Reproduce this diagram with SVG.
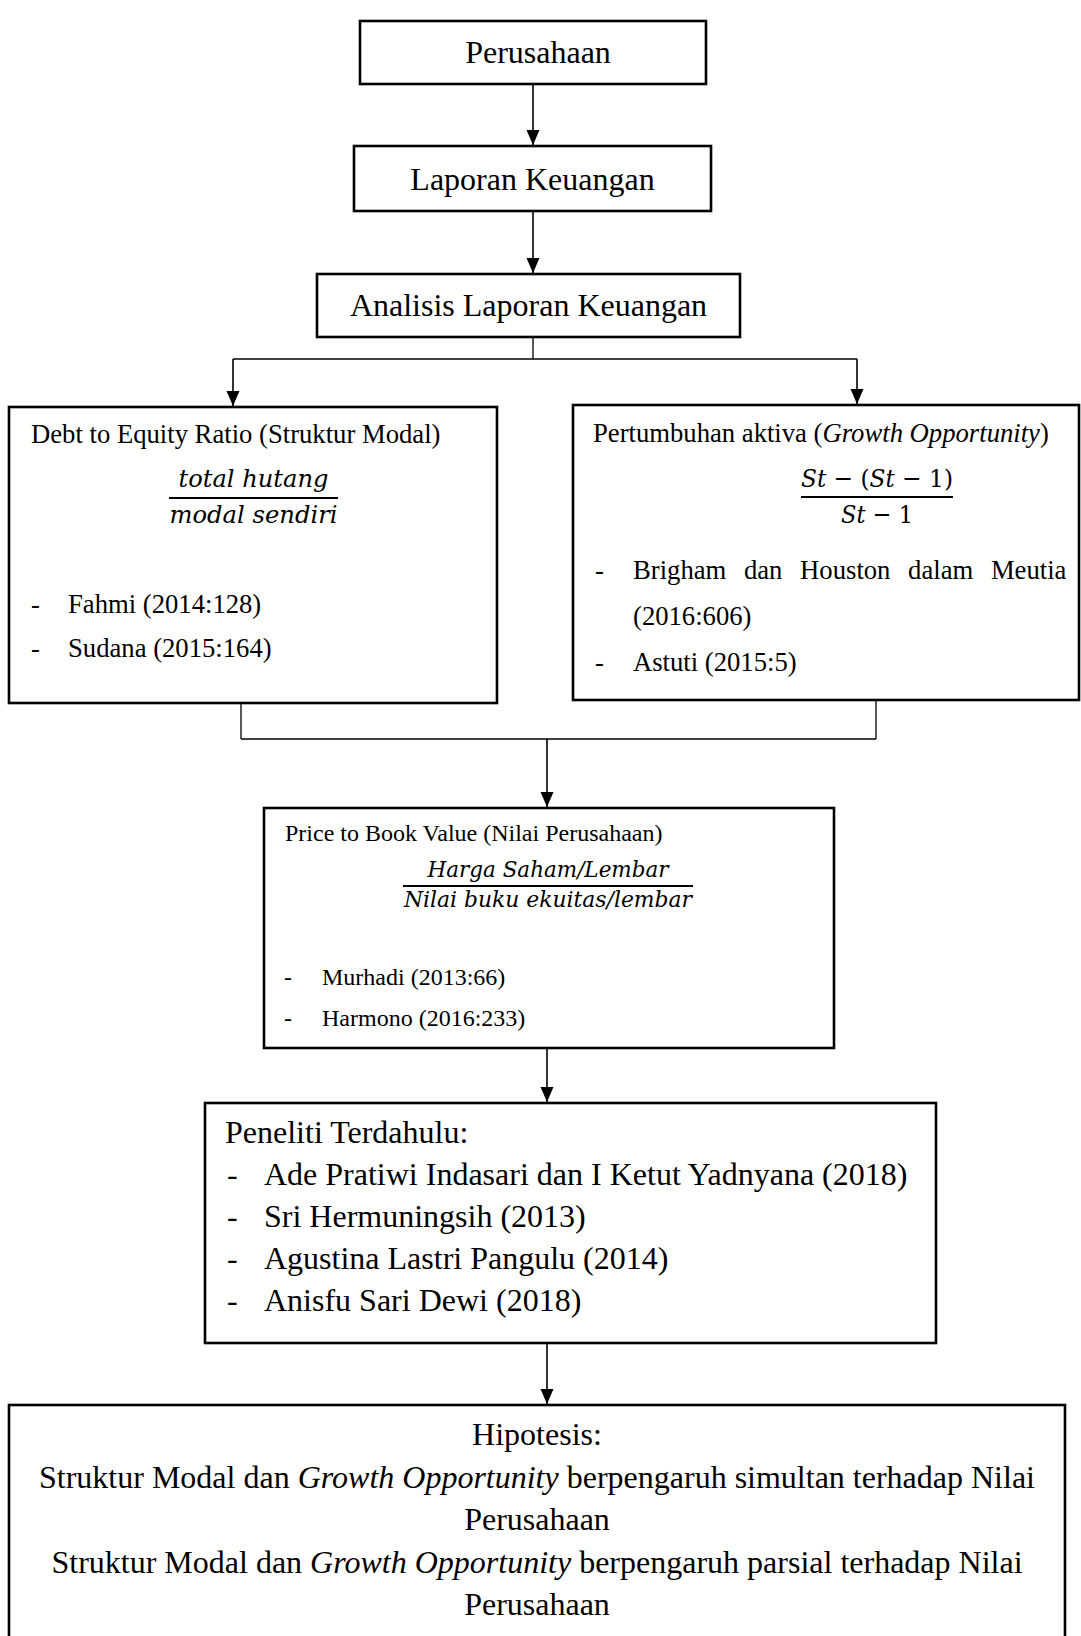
<svg xmlns="http://www.w3.org/2000/svg" width="1081" height="1636" viewBox="0 0 1081 1636">
<defs>
<marker id="arr" markerUnits="userSpaceOnUse" markerWidth="16" markerHeight="14" refX="15" refY="6.5" orient="auto">
<path d="M0,0 L15,6.5 L0,13 z" fill="#000"/>
</marker>
<style>
.box{fill:#fff;stroke:#000;stroke-width:2.6}
.t{font-family:"Liberation Serif","Times New Roman",serif;fill:#000}
.m{font-family:"DejaVu Serif",serif;font-style:italic;fill:#000}
.mu{font-style:normal}
.c{stroke:#000;stroke-width:1.3;fill:none}
.a{stroke:#000;stroke-width:1.6;fill:none;marker-end:url(#arr)}
.fl{stroke:#000;stroke-width:1.8}
.i{font-style:italic}
</style>
</defs>
<rect width="1081" height="1636" fill="#fff"/>

<g id="connectors">
<line class="a" x1="533" y1="84" x2="533" y2="145"/>
<line class="a" x1="533" y1="211" x2="533" y2="273"/>
<line class="c" x1="533" y1="337" x2="533" y2="359"/>
<line class="c" x1="233" y1="359" x2="857" y2="359"/>
<line class="a" x1="233" y1="359" x2="233" y2="406"/>
<line class="a" x1="857" y1="359" x2="857" y2="404"/>
<line class="c" x1="241" y1="703" x2="241" y2="739"/>
<line class="c" x1="876" y1="700" x2="876" y2="739"/>
<line class="c" x1="241" y1="739" x2="876" y2="739"/>
<line class="a" x1="547" y1="739" x2="547" y2="807"/>
<line class="a" x1="547" y1="1048" x2="547" y2="1102"/>
<line class="a" x1="547" y1="1343" x2="547" y2="1404"/>
</g>

<g id="perusahaan">
<rect class="box" x="360" y="21" width="346" height="63"/>
<text class="t" x="538" y="63" font-size="32" text-anchor="middle">Perusahaan</text>
</g>

<g id="laporan">
<rect class="box" x="354" y="146" width="357" height="65"/>
<text class="t" x="532.5" y="190" font-size="32" text-anchor="middle">Laporan Keuangan</text>
</g>

<g id="analisis">
<rect class="box" x="317" y="274" width="423" height="63"/>
<text class="t" x="528.5" y="316" font-size="32" text-anchor="middle">Analisis Laporan Keuangan</text>
</g>

<g id="der">
<rect class="box" x="9" y="407" width="488" height="296"/>
<text class="t" x="31" y="443" font-size="26.67">Debt to Equity Ratio (Struktur Modal)</text>
<text class="m" x="253.5" y="487" font-size="24" text-anchor="middle" textLength="150" lengthAdjust="spacingAndGlyphs">total hutang</text>
<line class="fl" x1="169" y1="498" x2="338" y2="498"/>
<text class="m" x="253.5" y="523" font-size="24" text-anchor="middle" textLength="168" lengthAdjust="spacingAndGlyphs">modal sendiri</text>
<text class="t" x="31" y="613" font-size="26.67">-</text>
<text class="t" x="68" y="613" font-size="26.67">Fahmi (2014:128)</text>
<text class="t" x="31" y="657" font-size="26.67">-</text>
<text class="t" x="68" y="657" font-size="26.67">Sudana (2015:164)</text>
</g>

<g id="growth">
<rect class="box" x="573" y="405" width="506" height="295"/>
<text class="t" x="593" y="442" font-size="26.67">Pertumbuhan aktiva (<tspan class="i">Growth Opportunity</tspan>)</text>
<text class="m" x="877" y="487" font-size="25" text-anchor="middle" textLength="152" lengthAdjust="spacingAndGlyphs">St <tspan class="mu">− (</tspan>St <tspan class="mu">− 1)</tspan></text>
<line class="fl" x1="801" y1="497" x2="953" y2="497"/>
<text class="m" x="877" y="523" font-size="25" text-anchor="middle" textLength="72" lengthAdjust="spacingAndGlyphs">St <tspan class="mu">− 1</tspan></text>
<text class="t" x="595" y="579" font-size="26.67">-</text>
<text class="t" x="633" y="579" font-size="26.67" word-spacing="11">Brigham dan Houston dalam Meutia</text>
<text class="t" x="633" y="625" font-size="26.67">(2016:606)</text>
<text class="t" x="595" y="671" font-size="26.67">-</text>
<text class="t" x="633" y="671" font-size="26.67">Astuti (2015:5)</text>
</g>

<g id="pbv">
<rect class="box" x="264" y="808" width="570" height="240"/>
<text class="t" x="285" y="841" font-size="24">Price to Book Value (Nilai Perusahaan)</text>
<text class="m" x="548" y="877" font-size="22" text-anchor="middle" textLength="241" lengthAdjust="spacingAndGlyphs">Harga Saham/Lembar</text>
<line class="fl" x1="403" y1="886" x2="693" y2="886"/>
<text class="m" x="548" y="907" font-size="22" text-anchor="middle" textLength="288" lengthAdjust="spacingAndGlyphs">Nilai buku ekuitas/lembar</text>
<text class="t" x="284" y="985" font-size="24">-</text>
<text class="t" x="322" y="985" font-size="24">Murhadi (2013:66)</text>
<text class="t" x="284" y="1026" font-size="24">-</text>
<text class="t" x="322" y="1026" font-size="24">Harmono (2016:233)</text>
</g>

<g id="peneliti">
<rect class="box" x="205" y="1103" width="731" height="240"/>
<text class="t" x="225" y="1143" font-size="32">Peneliti Terdahulu:</text>
<text class="t" x="227" y="1185" font-size="32">-</text>
<text class="t" x="264" y="1185" font-size="32">Ade Pratiwi Indasari dan I Ketut Yadnyana (2018)</text>
<text class="t" x="227" y="1227" font-size="32">-</text>
<text class="t" x="264" y="1227" font-size="32">Sri Hermuningsih (2013)</text>
<text class="t" x="227" y="1269" font-size="32">-</text>
<text class="t" x="264" y="1269" font-size="32">Agustina Lastri Pangulu (2014)</text>
<text class="t" x="227" y="1311" font-size="32">-</text>
<text class="t" x="264" y="1311" font-size="32">Anisfu Sari Dewi (2018)</text>
</g>

<g id="hipotesis">
<rect class="box" x="9" y="1405" width="1056" height="240"/>
<text class="t" x="537" y="1445" font-size="32" text-anchor="middle">Hipotesis:</text>
<text class="t" x="537" y="1488" font-size="32" text-anchor="middle">Struktur Modal dan <tspan class="i">Growth Opportunity</tspan> berpengaruh simultan terhadap Nilai</text>
<text class="t" x="537" y="1530" font-size="32" text-anchor="middle">Perusahaan</text>
<text class="t" x="537" y="1573" font-size="32" text-anchor="middle">Struktur Modal dan <tspan class="i">Growth Opportunity</tspan> berpengaruh parsial terhadap Nilai</text>
<text class="t" x="537" y="1615" font-size="32" text-anchor="middle">Perusahaan</text>
</g>
</svg>
